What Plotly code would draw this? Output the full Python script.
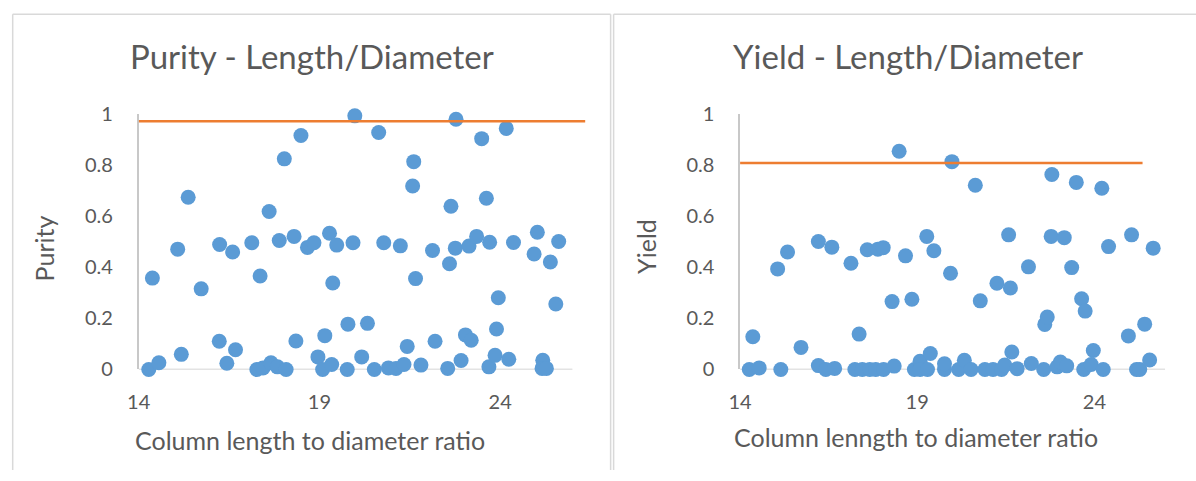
import plotly.graph_objects as go

# ---------------- data ----------------
purity_x = [14.28, 14.56, 14.38, 15.08, 15.18, 15.37, 15.73, 16.23, 16.24, 16.44,
            16.60, 16.68, 17.13, 17.27, 17.36, 17.44, 17.61, 17.66, 17.84, 17.89,
            18.03, 18.08, 18.30, 18.35, 18.49, 18.67, 18.85, 18.96, 19.09, 19.15,
            19.28, 19.34, 19.37, 19.48, 19.98, 19.93, 19.79, 19.77, 20.17, 20.33,
            20.52, 20.64, 20.78, 20.91, 21.12, 21.24, 21.34, 21.43, 21.61, 21.58,
            21.66, 21.81, 22.13, 22.20, 22.55, 22.60, 22.64, 22.78, 22.76, 22.92,
            23.04, 23.20, 23.14, 23.35, 23.49, 23.62, 23.71, 23.69, 23.86, 23.90,
            23.95, 24.17, 24.24, 24.37, 24.94, 25.03, 25.18, 25.16, 25.28, 25.39,
            25.54, 25.62]
purity_y = [0.000, 0.026, 0.357, 0.470, 0.059, 0.673, 0.315, 0.110, 0.488, 0.024,
            0.459, 0.077, 0.495, 0.000, 0.365, 0.006, 0.617, 0.026, 0.010, 0.504,
            0.823, 0.000, 0.520, 0.111, 0.914, 0.477, 0.495, 0.049, 0.000, 0.132,
            0.532, 0.019, 0.338, 0.486, 0.991, 0.495, 0.177, 0.000, 0.049, 0.180,
            0.000, 0.926, 0.495, 0.006, 0.004, 0.483, 0.019, 0.090, 0.812, 0.717,
            0.355, 0.017, 0.465, 0.110, 0.004, 0.413, 0.638, 0.978, 0.474, 0.035,
            0.135, 0.114, 0.482, 0.520, 0.902, 0.669, 0.497, 0.010, 0.055, 0.158,
            0.280, 0.942, 0.040, 0.496, 0.451, 0.536, 0.036, 0.004, 0.004, 0.420,
            0.256, 0.500]

yield_x = [14.26, 14.54, 14.36, 15.06, 15.15, 15.34, 15.72, 16.21, 16.21, 16.42,
           16.59, 16.67, 17.13, 17.24, 17.36, 17.45, 17.59, 17.66, 17.83, 17.89,
           18.04, 18.05, 18.29, 18.35, 18.49, 18.67, 18.85, 18.92, 19.08, 19.08,
           19.27, 19.29, 19.37, 19.47, 19.77, 19.77, 19.94, 19.98, 20.17, 20.33,
           20.52, 20.64, 20.78, 20.91, 21.14, 21.25, 21.38, 21.47, 21.58, 21.63,
           21.67, 21.82, 22.14, 22.22, 22.57, 22.60, 22.67, 22.78, 22.80, 22.95,
           23.04, 23.22, 23.15, 23.36, 23.49, 23.64, 23.74, 23.70, 23.91, 23.97,
           24.21, 24.25, 24.40, 24.96, 25.05, 25.19, 25.28, 25.42, 25.56, 25.66]
yield_y = [0.000, 0.006, 0.128, 0.393, 0.000, 0.459, 0.086, 0.500, 0.015, 0.000,
           0.478, 0.004, 0.415, 0.000, 0.138, 0.000, 0.468, 0.000, 0.000, 0.470,
           0.476, 0.000, 0.265, 0.013, 0.853, 0.444, 0.274, 0.000, 0.032, 0.000,
           0.520, 0.000, 0.062, 0.464, 0.000, 0.022, 0.376, 0.812, 0.000, 0.036,
           0.000, 0.720, 0.268, 0.000, 0.000, 0.337, 0.000, 0.017, 0.526, 0.318,
           0.068, 0.003, 0.401, 0.023, 0.000, 0.176, 0.205, 0.520, 0.762, 0.010,
           0.029, 0.014, 0.515, 0.398, 0.731, 0.276, 0.228, 0.000, 0.019, 0.074,
           0.708, 0.000, 0.480, 0.131, 0.526, 0.000, 0.000, 0.177, 0.037, 0.474]

purity_target = 0.97
purity_target_x = [14, 26.36]
yield_target = 0.807
yield_target_x = [14, 25.36]

x_ticks = [14, 19, 24]
x_tick_labels = ["14", "19", "24"]
y_ticks = [0, 0.2, 0.4, 0.6, 0.8, 1]
y_tick_labels = ["0", "0.2", "0.4", "0.6", "0.8", "1"]

titles = ["Purity - Length/Diameter", "Yield - Length/Diameter"]
x_titles = ["Column length to diameter ratio", "Column lenngth to diameter ratio"]
y_titles = ["Purity", "Yield"]

# ---------------- styling ----------------
W, H = 1196, 481
FONT = "Lato"
TXT = "#595959"
BLUE = "#5b9bd5"
ORANGE = "#ed7d31"
AXLINE = "#c8c8c8"
BORDER = "#d9d9d9"

# mapping of a target screen position to paper fractions (measured page offset/scale)
OX, SW, OY, SH = 6.8, 1189.1, 8.8, 464.4

def sx(x):
    return (x - OX) / SW

def sy(y):
    return 1 - (y - OY) / SH

fig = go.Figure()

fig.add_trace(go.Scatter(x=purity_x, y=purity_y, mode="markers",
                         marker=dict(color=BLUE, size=15), cliponaxis=False,
                         xaxis="x", yaxis="y", showlegend=False))
fig.add_trace(go.Scatter(x=purity_target_x, y=[purity_target] * 2, mode="lines",
                         line=dict(color=ORANGE, width=2.6), cliponaxis=False,
                         xaxis="x", yaxis="y", showlegend=False))
fig.add_trace(go.Scatter(x=yield_x, y=yield_y, mode="markers",
                         marker=dict(color=BLUE, size=15), cliponaxis=False,
                         xaxis="x2", yaxis="y2", showlegend=False))
fig.add_trace(go.Scatter(x=yield_target_x, y=[yield_target] * 2, mode="lines",
                         line=dict(color=ORANGE, width=2.6), cliponaxis=False,
                         xaxis="x2", yaxis="y2", showlegend=False))

ydom = [sy(371), sy(111)]
common_x = dict(tickvals=x_ticks, ticktext=x_tick_labels, showgrid=False, zeroline=False,
                showline=False, ticks="", ticklabelstandoff=19,
                tickfont=dict(family=FONT, size=20, color=TXT), fixedrange=True)
common_y = dict(tickvals=y_ticks, ticktext=y_tick_labels, range=[0, 1], showgrid=False,
                zeroline=False, showline=True, linecolor=AXLINE, linewidth=1.5,
                ticks="", ticklabelstandoff=20, layer="below traces",
                tickfont=dict(family=FONT, size=20, color=TXT), fixedrange=True)

fig.update_layout(
    width=W, height=H, margin=dict(l=0, r=0, t=0, b=0),
    paper_bgcolor="white", plot_bgcolor="rgba(0,0,0,0)",
    xaxis=dict(domain=[sx(134), sx(582.7)], range=[14, 26.36], anchor="y", **common_x),
    yaxis=dict(domain=ydom, anchor="x", **common_y),
    xaxis2=dict(domain=[sx(738), sx(1165)], range=[14, 26], anchor="y2", **common_x),
    yaxis2=dict(domain=ydom, anchor="x2", **common_y),
)

def pline(x0, y0, x1, y1, w=1.5):
    return dict(type="line", xref="paper", yref="paper", x0=x0, y0=y0, x1=x1, y1=y1,
                line=dict(color=BORDER, width=w), layer="below")

top = sy(10)
shapes = [
    # chart borders
    pline(sx(7.5), 0, sx(7.5), top),
    pline(sx(7.5), top, sx(608), top),
    pline(sx(608), 0, sx(608), top),
    pline(sx(611), 0, sx(611), top),
    pline(sx(611), top, 1, top),
    # horizontal axis lines
    dict(type="line", xref="x", yref="y", x0=14, x1=26, y0=0, y1=0,
         line=dict(color=AXLINE, width=1.5), layer="below"),
    dict(type="line", xref="x2", yref="y2", x0=14, x1=26, y0=0, y1=0,
         line=dict(color=AXLINE, width=1.5), layer="below"),
]
fig.update_layout(shapes=shapes)

ann = []
for cx, t in zip([308, 907], titles):
    ann.append(dict(text=t, x=sx(cx), y=sy(52), xref="paper", yref="paper",
                    xanchor="center", yanchor="middle", showarrow=False,
                    font=dict(family=FONT, size=33, color=TXT)))
for cx, cy, t in zip([306, 915], [443, 440], x_titles):
    ann.append(dict(text=t, x=sx(cx), y=sy(cy), xref="paper", yref="paper",
                    xanchor="center", yanchor="middle", showarrow=False,
                    font=dict(family=FONT, size=25, color=TXT)))
for cx, cy, t in zip([39, 644], [248, 246], y_titles):
    ann.append(dict(text=t, x=sx(cx), y=sy(cy), xref="paper", yref="paper",
                    xanchor="center", yanchor="middle", showarrow=False, textangle=-90,
                    font=dict(family=FONT, size=25, color=TXT)))
fig.update_layout(annotations=ann)

fig.write_html("out.html")
